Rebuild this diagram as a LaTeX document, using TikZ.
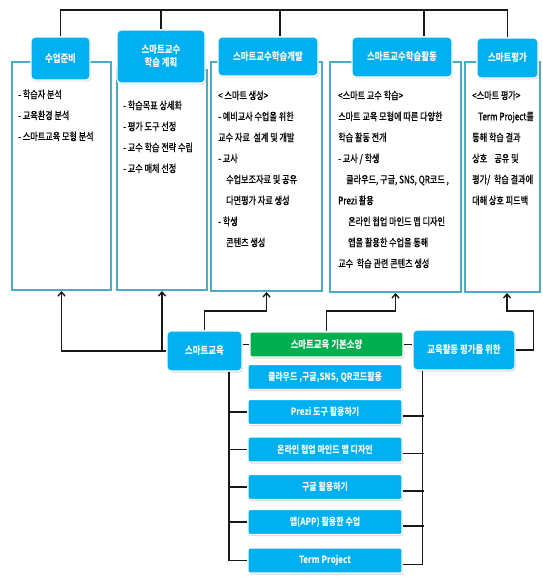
\documentclass[tikz,border=0pt]{standalone}
\usepackage{fontspec}
\newfontfamily\kr[FakeStretch=0.78,FakeBold=0.8]{Noto Sans CJK KR}
\newfontfamily\krb[FakeStretch=0.8]{Noto Sans CJK KR}
\usetikzlibrary{shadows,arrows.meta}
\definecolor{skyblue}{RGB}{0,176,240}
\definecolor{leafgreen}{RGB}{0,176,80}
\definecolor{panelblue}{RGB}{75,172,198}
\begin{document}
\begin{tikzpicture}[x=1pt, y=-1pt, >={Straight Barb[length=4pt,width=7pt]},
    head/.style={fill=skyblue, draw=white, line width=1.2pt, rounded corners=4pt, text=white,
        font=\krb\bfseries\fontsize{10.5}{13}\selectfont, align=center, inner sep=0pt,
        drop shadow={opacity=0.3, shadow xshift=1pt, shadow yshift=-1.5pt}},
    item/.style={head, rounded corners=2pt, minimum width=154pt, minimum height=25pt,
        font=\krb\bfseries\fontsize{10}{12}\selectfont},
    panel/.style={draw=panelblue, line width=2pt, fill=white, inner sep=0pt},
    body/.style={anchor=north west, inner sep=0pt, align=left, font=\kr\fontsize{10.4}{21}\selectfont},
    link/.style={draw=black!90, line width=1.4pt},
    arr/.style={link, ->}]
    \useasboundingbox (0,0) rectangle (542,577);
    \node[panel, minimum width=99pt, minimum height=228pt] (p1) at (61.5,176) {};
    \node[panel, minimum width=90pt, minimum height=220pt] (p2) at (162,180) {};
    \node[panel, minimum width=111pt, minimum height=229pt] (p3) at (266.5,176.5) {};
    \node[panel, minimum width=131pt, minimum height=230pt] (p4) at (395.5,177) {};
    \node[panel, minimum width=75pt, minimum height=230pt] (p5) at (502.5,177) {};
    \node[body] (t1) at (18,89.5) {- 학습자 분석\\- 교육환경 분석\\- 스마트교육 모형 분석};
    \node[body] (t2) at (123,100.5) {- 학습목표 상세화\\- 평가 도구 선정\\- 교수 학습 전략 수립\\- 교수 매체 선정};
    \node[body] (t3) at (218,90.5) {< 스마트 생성>\\- 예비교사 수업을 위한\\교수 자료~~설계 및 개발\\- 교사\\
        \hspace*{8pt}수업보조자료 및 공유\\\hspace*{8pt}다면평가 자료 생성\\- 학생\\\hspace*{8pt}콘텐츠 생성};
    \node[body] (t4) at (338,90.5) {<스마트 교수 학습>\\스마트 교육 모형에 따른 다양한\\학습 활동 전개\\- 교사 / 학생\\
        \hspace*{8pt}클라우드, 구글, SNS, QR코드 ,\\Prezi 활용\\\hspace*{10pt}온라인 협업 마인드 맵 디자인\\
        \hspace*{10pt}앱을 활용한 수업을 통해\\교수~~학습 관련 콘텐츠 생성};
    \node[body] (t5) at (472,90.5) {<스마트 평가>\\\hspace*{6pt}Term Project를\\통해 학습 결과\\상호~~~~공유 및\\
        평가/~~학습 결과에\\대해 상호 피드백};
    \node[head, minimum width=59pt, minimum height=43pt] (h1) at (60.5,58.5) {수업준비};
    \node[head, minimum width=88pt, minimum height=53pt] (h2) at (161,56.5) {스마트교수\\학습 계획};
    \node[head, minimum width=100pt, minimum height=39pt] (h3) at (268,56.5) {스마트교수학습개발};
    \node[head, minimum width=100pt, minimum height=40pt] (h4) at (402,57) {스마트교수학습활동};
    \node[head, minimum width=61pt, minimum height=40pt] (h5) at (507.5,58) {스마트평가};
    \coordinate (top) at (0,10);
    \coordinate (mid) at (0,311);
    \draw[link] (h1.north) |- (h5.north |- top) -- (h5.north);
    \draw[link] (h2.north) -- (h2.north |- top);
    \draw[link] ([xshift=12pt]h3.north) -- ([xshift=12pt]h3.north |- top);
    \draw[link] ([xshift=22pt]h4.north) -- ([xshift=22pt]h4.north |- top);
    \node[head, minimum width=75pt, minimum height=40pt] (edu) at (204.5,351) {스마트교육};
    \node[head, fill=leafgreen, rounded corners=2pt, minimum width=153pt, minimum height=25pt] (basic) at (326.5,344.5) {스마트교육 기본소양};
    \node[head, minimum width=102pt, minimum height=40pt] (evalfor) at (464,350) {교육활동 평가를 위한};
    \foreach \i/\y/\t in {1/377/{클라우드 ,구글,SNS, QR코드활용}, 2/412/{Prezi 도구 활용하기},
        3/449.5/{온라인 협업 마인드 맵 디자인}, 4/487/{구글 활용하기}, 5/522/{앱(APP) 활용한 수업},
        6/560.5/{Term Project}}
        \node[item] (i\i) at (325,\y) {\t};
    \draw[arr] (edu.west) -| (p1.south);
    \draw[arr] (edu.west -| p2.south) -- (p2.south);
    \draw[arr] (edu.north) |- (mid -| p3.south) -- (p3.south);
    \draw[arr] (basic.north) |- (mid -| p4.south) -- (p4.south);
    \coordinate (p5in) at ([xshift=4.5pt]p5.south);
    \draw[arr] (evalfor.east) -| ([xshift=18pt]evalfor.east |- mid) -| (p5in);
    \draw[link] (edu.east |- basic.west) -- (basic.west);
    \draw[link] (basic.east) -- (basic.east -| evalfor.west);
    \coordinate (lbus) at ([xshift=24.5pt]edu.south);
    \draw[link] (lbus) |- (i6.west);
    \foreach \i in {2,...,5}
        \draw[link] (lbus |- i\i.west) -- (i\i.west);
    \coordinate (rbus) at ([xshift=10pt]evalfor.south west);
    \draw[link] (rbus) |- ([yshift=-4pt]i6.east);
    \foreach \i in {2,...,5}
        \draw[link] ([yshift=-4pt]i\i.east) -- ++(21,0);
\end{tikzpicture}
\end{document}
